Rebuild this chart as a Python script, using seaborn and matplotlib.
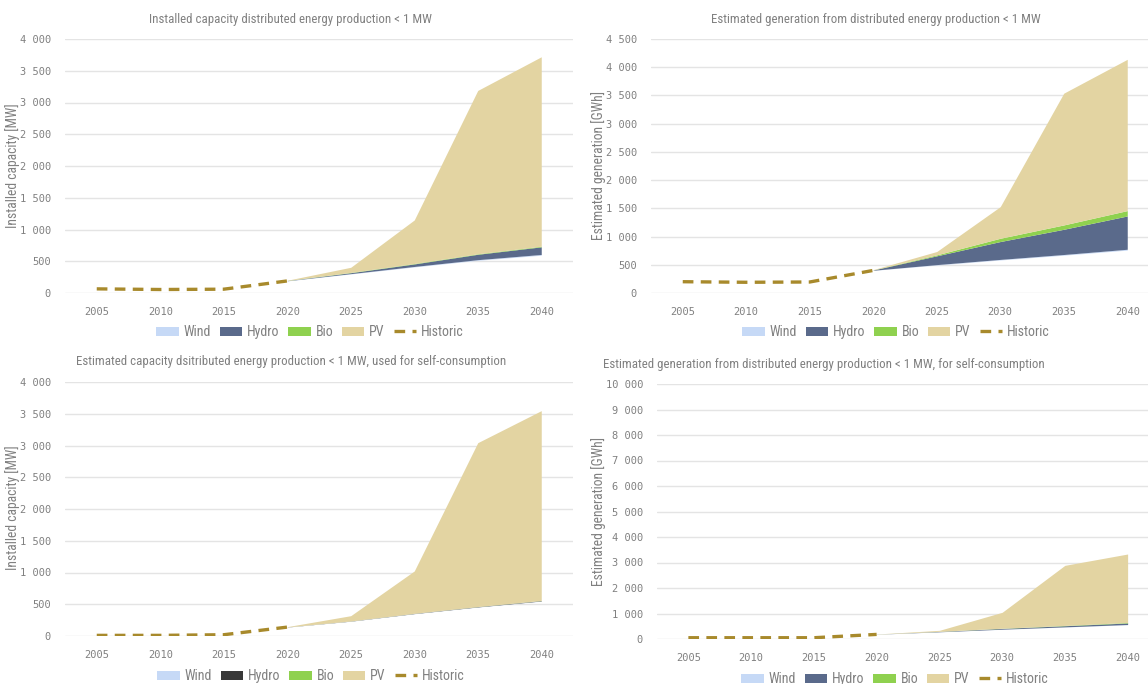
import numpy as np
import pandas as pd
import seaborn as sns
import matplotlib
matplotlib.use("Agg")
import matplotlib.pyplot as plt
from matplotlib import font_manager as fm
from matplotlib.patches import Patch
from matplotlib.lines import Line2D
from matplotlib.ticker import FuncFormatter, MultipleLocator

# ---- data -------------------------------------------------------------
years_hist = [2005, 2010, 2015, 2020]
years_proj = [2020, 2025, 2030, 2035, 2040]
tick_years = [2005, 2010, 2015, 2020, 2025, 2030, 2035, 2040]
series_names = ["Wind", "Hydro", "Bio", "PV"]

# Installed capacity [MW]
cap_existing = [190, 300, 410, 515, 595]
cap_wind = [3, 5, 8, 10, 12]
cap_hydro = [3, 15, 40, 85, 120]
cap_bio = [2, 5, 7, 8, 10]
cap_pv = [3, 80, 685, 2572, 2983]
cap_hist = [65, 55, 60, 190]

# Estimated generation [GWh]
gen_existing = [400, 495, 585, 670, 760]
gen_wind = [3, 8, 10, 12, 15]
gen_hydro = [5, 156, 317, 447, 590]
gen_bio = [2, 17, 58, 77, 95]
gen_pv = [5, 59, 560, 2334, 2680]
gen_hist = [200, 190, 195, 400]

# Self-consumption capacity [MW]
sc_cap_existing = [140, 232, 350, 455, 548]
sc_cap_wind = [1, 2, 3, 3, 4]
sc_cap_hydro = [2, 3, 4, 5, 6]
sc_cap_bio = [0.5, 1, 1, 1.5, 2]
sc_cap_pv = [4, 82, 666, 2580, 2989]
sc_cap_hist = [10, 10, 20, 140]

# Self-consumption generation [GWh]
sc_gen_existing = [185, 280, 380, 470, 560]
sc_gen_wind = [2, 3, 5, 6, 8]
sc_gen_hydro = [3, 15, 30, 45, 60]
sc_gen_bio = [1, 4, 8, 12, 20]
sc_gen_pv = [5, 38, 623, 2356, 2685]
sc_gen_hist = [50, 50, 50, 180]

titles = [
    "Installed capacity distributed energy production < 1 MW",
    "Estimated generation from distributed energy production < 1 MW",
    "Estimated capacity dsitributed energy production < 1 MW, used for self-consumption",
    "Estimated generation from distributed energy production < 1 MW, for self-consumption",
]
ylabels = ["Installed capacity [MW]", "Estimated generation [GWh]",
           "Installed capacity [MW]", "Estimated generation [GWh]"]

# ---- fonts: prefer a narrow sans for titles and legends -----------------
sns.set_theme(style="white")
installed = {(f.name, f.stretch) for f in fm.fontManager.ttflist}
names = {n for n, _ in installed}
narrow_family, narrow_stretch = None, "normal"
for cand in ["Liberation Sans Narrow", "Roboto Condensed", "Open Sans Condensed",
             "Noto Sans Condensed", "DejaVu Sans Condensed"]:
    if cand in names:
        narrow_family = cand
        break
if narrow_family is None:
    for fam in ["Noto Sans", "Open Sans", "DejaVu Sans", "Roboto"]:
        if (fam, "condensed") in installed or (fam, "semi-condensed") in installed:
            narrow_family = fam
            narrow_stretch = "condensed" if (fam, "condensed") in installed else "semi-condensed"
            break
if narrow_family is None:
    others = sorted(n for n in names if ("Condensed" in n or "Narrow" in n)
                    and "Mono" not in n and "CJK" not in n)
    narrow_family = others[0] if others else "Roboto"

TEXT_FONT = [narrow_family, "DejaVu Sans"]
TICK_FONT = ["DejaVu Sans Mono", "DejaVu Sans"]
plt.rcParams["font.family"] = TEXT_FONT
plt.rcParams["font.stretch"] = narrow_stretch

GREY = "#808080"
GRID = "#e4e4e4"
C_WIND = "#c6d9f6"
C_HYDRO = "#5a6a8b"
C_HYDRO_DARK = "#383838"
C_BIO = "#8fd14f"
C_PV = "#e3d4a2"
C_HIST = "#a88a2c"

W, H = 1148, 684
fig = plt.figure(figsize=(W / 100, H / 100), dpi=100)


def frac_box(left, top, right, bottom):
    return [left / W, 1 - bottom / H, (right - left) / W, (bottom - top) / H]


def thousands(v, _):
    return f"{int(round(v)):,}".replace(",", " ")


panels = [
    dict(box=frac_box(65, 39, 573, 293), ymax=4000, step=500,
         data=(cap_existing, cap_wind, cap_hydro, cap_bio, cap_pv), hist=cap_hist,
         hydro_color=C_HYDRO, title_xy=(290, 19), legend_xy=(310, 332), ylab_xy=(13, 166)),
    dict(box=frac_box(651, 39, 1159, 293), ymax=4500, step=500,
         data=(gen_existing, gen_wind, gen_hydro, gen_bio, gen_pv), hist=gen_hist,
         hydro_color=C_HYDRO, title_xy=(876, 19), legend_xy=(896, 332), ylab_xy=(599, 166)),
    dict(box=frac_box(65, 382, 573, 636), ymax=4000, step=500,
         data=(sc_cap_existing, sc_cap_wind, sc_cap_hydro, sc_cap_bio, sc_cap_pv), hist=sc_cap_hist,
         hydro_color=C_HYDRO_DARK, title_xy=(291, 361), legend_xy=(311, 676), ylab_xy=(13, 508)),
    dict(box=frac_box(657, 384, 1159, 639), ymax=10000, step=1000,
         data=(sc_gen_existing, sc_gen_wind, sc_gen_hydro, sc_gen_bio, sc_gen_pv), hist=sc_gen_hist,
         hydro_color=C_HYDRO, title_xy=(824, 365), legend_xy=(895, 679), ylab_xy=(599, 512)),
]

for i, p in enumerate(panels):
    ax = fig.add_axes(p["box"])
    existing, wind, hydro, bio, pv = p["data"]
    colors = ["none", C_WIND, p["hydro_color"], C_BIO, C_PV]

    # stacked projection areas (existing fleet stacked underneath, unfilled)
    ax.stackplot(years_proj, existing, wind, hydro, bio, pv,
                 colors=colors, linewidth=0, zorder=2)

    # historic values as a dashed line
    hist_df = pd.DataFrame({"year": years_hist, "value": p["hist"]})
    sns.lineplot(data=hist_df, x="year", y="value", ax=ax, color=C_HIST,
                 linewidth=2.4, zorder=4)
    ax.lines[-1].set_dashes((3.2, 2.2))

    ax.set_xlim(2002.5, 2042.5)
    ax.set_ylim(0, p["ymax"])
    ax.set_xticks(tick_years)
    ax.yaxis.set_major_locator(MultipleLocator(p["step"]))
    ax.yaxis.set_major_formatter(FuncFormatter(thousands))
    ax.grid(axis="y", color=GRID, linewidth=1.0, zorder=0)
    ax.set_axisbelow(True)
    for s in ax.spines.values():
        s.set_visible(False)
    ax.tick_params(axis="both", length=0, colors=GREY, labelsize=7.5)
    ax.tick_params(axis="x", pad=10)
    ax.tick_params(axis="y", pad=10)
    for lab in ax.get_xticklabels() + ax.get_yticklabels():
        lab.set_family(TICK_FONT)
        lab.set_stretch("normal")
    ax.set_xlabel("")
    ax.set_ylabel("")

    fig.text(p["title_xy"][0] / W, 1 - p["title_xy"][1] / H, titles[i],
             ha="center", va="center", fontsize=9.3, color=GREY)
    fig.text(p["ylab_xy"][0] / W, 1 - p["ylab_xy"][1] / H, ylabels[i],
             ha="center", va="center", rotation=90, fontsize=9.8, color=GREY)

    handles = [Patch(facecolor=c, edgecolor="none") for c in colors[1:]]
    handles.append(Line2D([0], [0], color=C_HIST, linewidth=2.4, dashes=(3.2, 2.2)))
    fig.legend(handles, series_names + ["Historic"], loc="center",
               bbox_to_anchor=(p["legend_xy"][0] / W, 1 - p["legend_xy"][1] / H),
               ncol=5, frameon=False, fontsize=10, labelcolor=GREY,
               handlelength=1.6, handleheight=0.6, handletextpad=0.35,
               columnspacing=0.65, borderaxespad=0)

fig.savefig("out.png", dpi=100, facecolor="white")
